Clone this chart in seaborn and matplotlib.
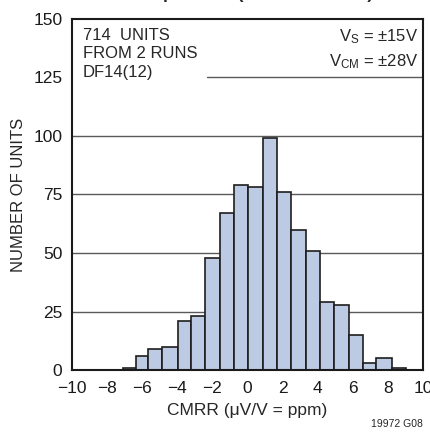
import numpy as np
import pandas as pd
import seaborn as sns
import matplotlib
matplotlib.use("Agg")
from matplotlib import pyplot as plt
from matplotlib import font_manager

# bin edges (uV/V) and counts
edges = [-7.1, -6.35, -5.65, -4.85, -3.95, -3.2, -2.45, -1.55, -0.8, 0.0,
         0.9, 1.7, 2.45, 3.35, 4.1, 4.9, 5.8, 6.55, 7.3, 8.2, 9.0]
counts = [1, 6, 9, 10, 21, 23, 48, 67, 79, 78,
          99, 76, 60, 51, 29, 28, 15, 3, 5, 1]
xticks = [-10, -8, -6, -4, -2, 0, 2, 4, 6, 8, 10]
yticks = [0, 25, 50, 75, 100, 125, 150]

sns.set_style("white")
names = {f.name for f in font_manager.fontManager.ttflist}
fam = "Liberation Sans Narrow" if "Liberation Sans Narrow" in names else "Liberation Sans"
plt.rcParams['font.family'] = [fam, 'DejaVu Sans']
plt.rcParams['mathtext.fontset'] = 'custom'
plt.rcParams['mathtext.rm'] = fam
plt.rcParams['mathtext.it'] = fam

centers = [(a + b) / 2 for a, b in zip(edges[:-1], edges[1:])]
df = pd.DataFrame({'cmrr': centers, 'n': counts})

fig = plt.figure(figsize=(4.31, 4.38), dpi=100)
ax = fig.add_axes([0.167, 0.155, 0.815, 0.802])

# grid lines (125 line only partial, behind the text block)
for y in [25, 50, 75, 100]:
    ax.axhline(y, color='#5a5a5a', lw=1.0, zorder=0)
ax.axhline(125, xmin=0.385, xmax=1.0, color='#5a5a5a', lw=1.0, zorder=0)

sns.histplot(data=df, x='cmrr', weights='n', bins=edges, ax=ax,
             color='#bccbe3', alpha=1.0, edgecolor='#1e1e1e', linewidth=1.2,
             zorder=2)

ax.set_xlim(-10, 10)
ax.set_ylim(0, 150)
ax.set_xticks(xticks)
ax.set_xticklabels([str(t).replace('-', '\u2212') for t in xticks])
ax.set_yticks(yticks)
ax.tick_params(axis='both', length=0, labelsize=12.5, colors='#1a1a1a')
ax.tick_params(axis='x', pad=8)
ax.tick_params(axis='y', pad=7)
for s in ax.spines.values():
    s.set_linewidth(1.5)
    s.set_color('#1a1a1a')
ax.set_xlabel('CMRR (\u03bcV/V = ppm)', fontsize=12.5, labelpad=5)
ax.set_ylabel('NUMBER OF UNITS', fontsize=12)
ax.yaxis.set_label_coords(-0.13, 0.5)

# annotation block
ax.text(0.03, 0.975, '714  UNITS\nFROM 2 RUNS\nDF14(12)', transform=ax.transAxes,
        ha='left', va='top', fontsize=12, linespacing=1.3)
ax.text(0.985, 0.975, r'V$_\mathrm{S}$ = ±15V', transform=ax.transAxes,
        ha='right', va='top', fontsize=12)
ax.text(0.985, 0.905, r'V$_\mathrm{CM}$ = ±28V', transform=ax.transAxes,
        ha='right', va='top', fontsize=12)

# title sits above the visible area; only the descenders show
fig.text(373 / 431, 1.003, 'Over Temperature (\u221240\u00b0C to 125\u00b0C)',
         ha='right', va='baseline', fontsize=12.5, fontweight='bold')
fig.text(423 / 431, 9 / 438, '19972 G08', ha='right', va='bottom', fontsize=7.5)

fig.savefig('out.png', dpi=100)
